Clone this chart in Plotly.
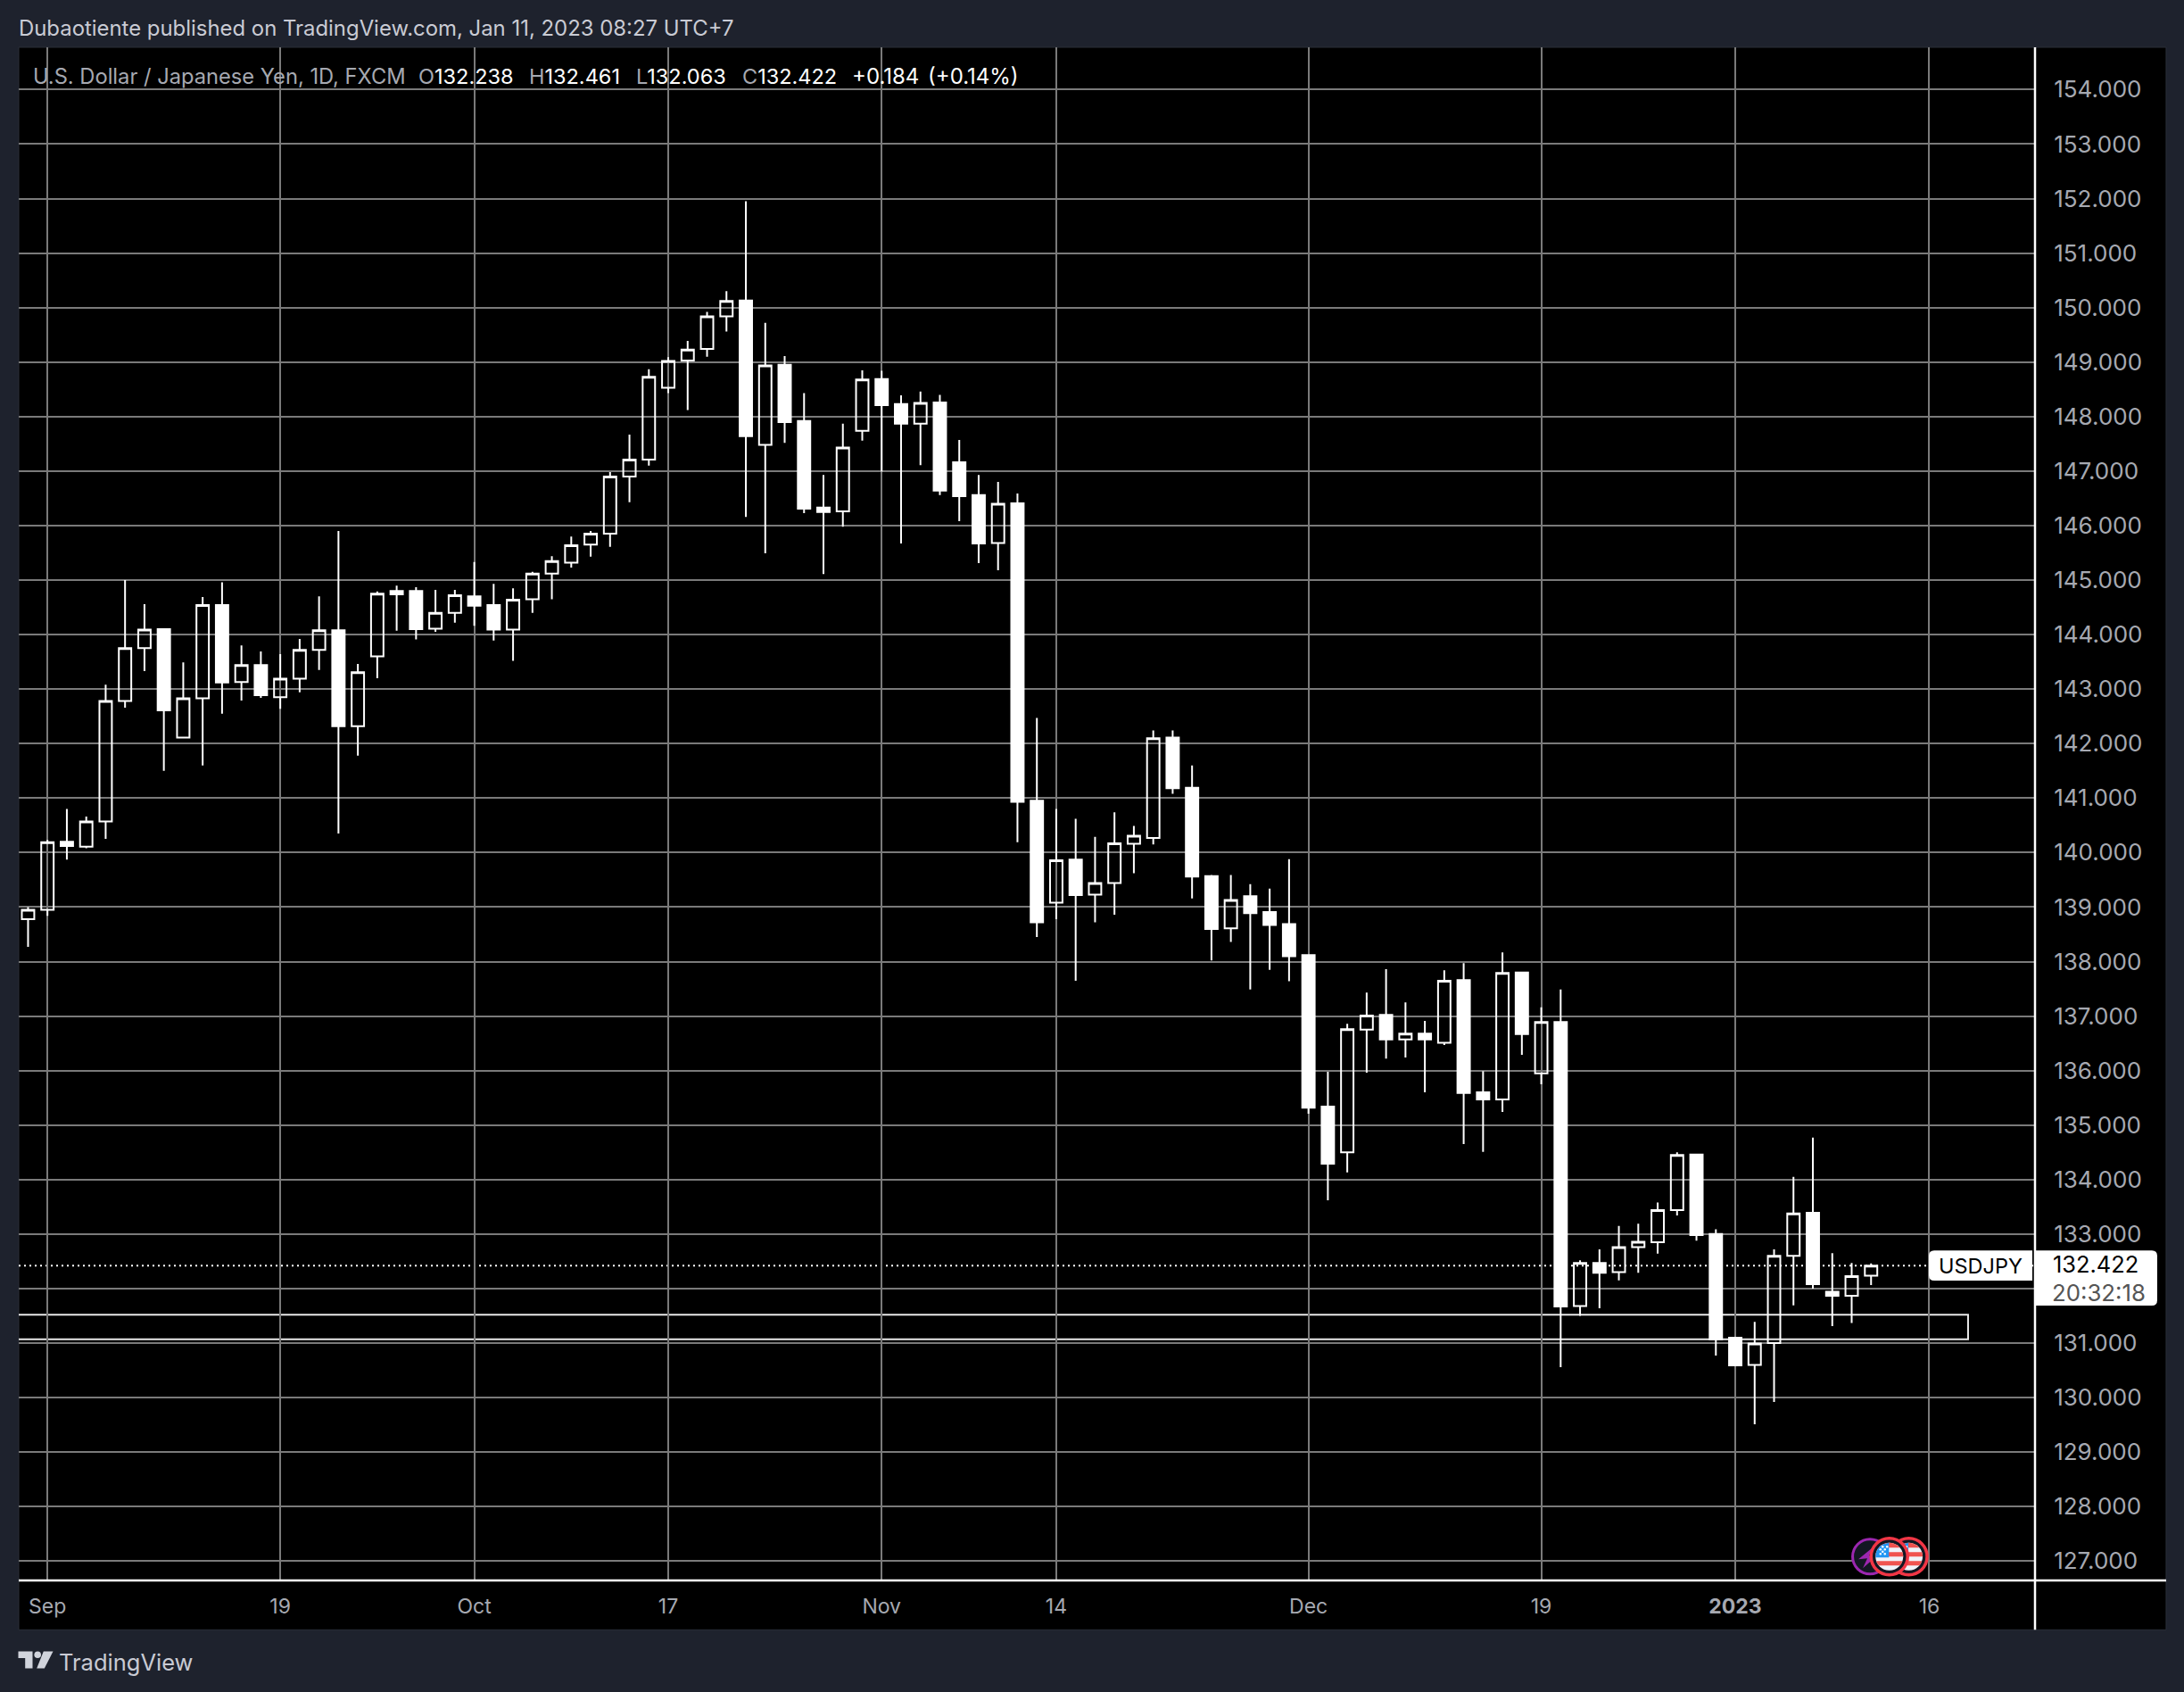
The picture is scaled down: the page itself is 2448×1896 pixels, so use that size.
import math
import plotly.graph_objects as go

# ---------- data ----------
OPEN = [138.78,138.95,140.20,140.11,140.57,142.78,143.75,144.10,142.11,142.83,144.54,143.13,143.44,142.85,143.19,143.72,
        144.08,142.32,143.60,144.80,144.80,144.11,144.40,144.70,144.54,144.09,144.65,145.12,145.32,145.65,145.85,146.90,
        147.21,148.53,149.03,149.24,149.84,150.13,147.48,148.95,147.92,146.33,146.26,147.74,148.69,148.23,147.87,148.26,
        147.16,146.56,145.68,146.41,140.95,139.08,139.87,139.23,139.44,140.16,140.27,142.11,141.19,139.57,138.61,139.20,
        138.91,138.69,138.12,135.34,134.50,136.75,137.02,136.57,136.68,136.51,137.66,135.60,135.47,137.80,135.95,136.89,
        131.68,132.47,132.30,132.76,132.85,133.44,134.46,133.00,131.10,130.60,131.00,132.60,133.39,131.94,131.87,132.238]
HIGH = [139.00,140.23,140.80,140.66,143.08,145.00,144.56,144.11,143.49,144.69,144.96,143.80,143.69,143.64,143.92,144.70,
        145.90,143.46,144.79,144.90,144.87,144.82,144.82,145.33,144.93,144.85,145.15,145.44,145.80,145.90,146.98,147.67,
        148.87,149.09,149.39,149.92,150.30,151.95,149.72,149.11,148.43,146.93,147.87,148.85,148.84,148.39,148.46,148.40,
        147.57,146.93,146.80,146.59,142.47,140.80,140.62,140.29,140.74,140.49,142.24,142.24,141.60,139.59,139.59,139.42,
        139.34,139.88,138.13,135.98,136.86,137.43,137.86,137.25,136.91,137.84,137.97,135.99,138.17,137.81,137.16,137.49,
        132.52,132.72,133.15,133.19,133.58,134.50,134.46,133.09,131.10,131.39,132.72,134.05,134.77,132.65,132.47,132.461]
LOW = [138.27,138.84,139.87,140.08,140.25,142.66,143.33,141.50,142.10,141.60,142.55,142.79,142.84,142.64,142.94,143.35,
       140.35,141.78,143.20,144.07,143.91,144.05,144.22,144.16,143.89,143.52,144.40,144.65,145.23,145.43,145.61,146.43,
       147.10,148.43,148.12,149.10,149.56,146.16,145.49,147.52,146.23,145.11,145.98,147.56,146.99,145.67,147.11,146.56,
       146.08,145.31,145.18,140.19,138.45,138.78,137.65,138.72,138.86,139.62,140.15,141.08,139.16,138.02,138.36,137.49,
       137.85,137.64,135.21,133.62,134.13,135.96,136.22,136.24,135.60,136.47,134.65,134.51,135.24,136.29,135.75,130.56,
       131.50,131.64,132.15,132.29,132.64,133.34,132.88,130.77,130.58,129.51,129.92,131.69,132.00,131.31,131.37,132.063]
CLOSE = [138.95,140.19,140.12,140.57,142.78,143.75,144.09,142.61,142.83,144.54,143.12,143.44,142.89,143.19,143.72,144.08,
         142.32,143.31,144.75,144.74,144.10,144.40,144.72,144.53,144.09,144.64,145.12,145.35,145.64,145.85,146.90,147.21,
         148.73,149.02,149.23,149.84,150.12,147.64,148.94,147.90,146.31,146.25,147.43,148.68,148.21,147.87,148.25,146.64,
         146.54,145.67,146.40,140.93,138.72,139.86,139.22,139.44,140.17,140.31,142.10,141.18,139.56,138.60,139.13,138.89,
         138.67,138.10,135.32,134.29,136.76,137.01,136.57,136.68,136.57,137.65,135.59,135.47,137.79,136.67,136.89,131.67,
         132.47,132.29,132.76,132.86,133.44,134.45,132.98,131.07,130.59,130.99,132.60,133.38,132.08,131.87,132.23,132.422]

SESSION = list(range(len(OPEN)))
X_TICK_SESSIONS = [1, 13, 23, 33, 44, 53, 66, 78, 88, 98]
X_TICK_LABELS = ["Sep", "19", "Oct", "17", "Nov", "14", "Dec", "19", "<b>2023</b>", "16"]
Y_TICKS = list(range(127, 155))
Y_LABEL_HIDDEN_BY_TAG = 132
LAST_PRICE = CLOSE[-1]
ZONE_TOP = 131.52
ZONE_BOTTOM = 131.07
ZONE_END_SESSION = 100

HEADER = "Dubaotiente published on TradingView.com, Jan 11, 2023 08:27 UTC+7"
SYMBOL_TITLE = "U.S. Dollar / Japanese Yen, 1D, FXCM"

# ---------- page geometry ----------
W, H = 2448, 1896
L, R, T, B = 20.5, 2281.0, 53.0, 1770.7   # plot area
PANEL_R, PANEL_B = 2428.0, 1826.0
BG = "#1e222d"
GRID = "#7a7a7a"
AXIS_TXT = "#a6a9b1"
FONT = "Inter, 'Noto Sans', sans-serif"

def px(x):
    return (x - L) / (R - L)

def py(y):
    return (B - y) / (B - T)

def rect(x0, y0, x1, y1, fill=None, line=None, lw=0, layer="above"):
    return dict(type="rect", xref="paper", yref="paper", x0=px(x0), x1=px(x1), y0=py(y0), y1=py(y1),
                fillcolor=fill or "rgba(0,0,0,0)", line=dict(color=line or "rgba(0,0,0,0)", width=lw), layer=layer)

def circle(cx, cy, r, fill=None, line=None, lw=0):
    return rect(cx - r, cy - r, cx + r, cy + r, fill, line, lw) | {"type": "circle"}

def poly(points, fill, layer="above"):
    d = "M " + " L ".join(f"{px(a):.6f},{py(b):.6f}" for a, b in points) + " Z"
    return dict(type="path", xref="paper", yref="paper", path=d, fillcolor=fill,
                line=dict(width=0, color="rgba(0,0,0,0)"), layer=layer)

def path_px(cmds, fill):
    out = []
    for c in cmds:
        if isinstance(c, str):
            out.append(c)
        else:
            out.append(f"{px(c[0]):.6f},{py(c[1]):.6f}")
    return dict(type="path", xref="paper", yref="paper", path=" ".join(out), fillcolor=fill,
                line=dict(width=0, color="rgba(0,0,0,0)"), layer="above")

def clipped_band(cx, cy, r, y0, y1, x0=-99, x1=99):
    """polygon of a rectangle (relative px) clipped to a circle of radius r"""
    n = 10
    left, right = [], []
    for i in range(n + 1):
        y = y0 + (y1 - y0) * i / n
        half = math.sqrt(max(r * r - y * y, 0))
        a, b = max(-half, x0), min(half, x1)
        if b < a:
            a = b = (a + b) / 2
        left.append((cx + a, cy + y))
        right.append((cx + b, cy + y))
    return left + right[::-1]

def flag(cx, cy):
    s = [circle(cx, cy, 20.5, "#131722", "#f23645", 3.5)]
    s.append(circle(cx, cy, 15.5, "#f0f3fa"))
    for y0, y1 in ((-15.5, -10), (-5, 0), (5, 10)):
        s.append(poly(clipped_band(cx, cy, 15.5, y0, y1), "#f05350"))
    s.append(poly(clipped_band(cx, cy, 15.5, -15.5, 1, x1=-0.5), "#2196f3"))
    for dx, dy in ((-10, -8), (-5, -8), (-10, -3), (-5, -3), (-7.5, -11), (-2.5, -11), (-7.5, -5.5)):
        s.append(circle(cx + dx, cy + dy, 1.3, "#ffffff"))
    return s

# ---------- shapes ----------
shapes = [
    rect(L, T, PANEL_R, PANEL_B, "#000000", "#2a2e39", 1, layer="below"),
    dict(type="rect", xref="x", yref="y", x0=-5, x1=ZONE_END_SESSION, y0=ZONE_BOTTOM, y1=ZONE_TOP,
         fillcolor="rgba(0,0,0,0)", line=dict(color="#e8e8e8", width=2), layer="below"),
    dict(type="line", xref="paper", yref="y", x0=0, x1=1, y0=LAST_PRICE, y1=LAST_PRICE,
         line=dict(color="#ffffff", width=2, dash="2px,4px"), layer="below"),
    dict(type="line", xref="paper", yref="paper", x0=px(L), x1=px(PANEL_R), y0=py(B), y1=py(B),
         line=dict(color="#ffffff", width=2.5), layer="above"),
    dict(type="line", xref="paper", yref="paper", x0=px(R), x1=px(R), y0=py(T), y1=py(PANEL_B),
         line=dict(color="#ffffff", width=2.5), layer="above"),
]
# USDJPY label and price tag
rr = 6
shapes.append(path_px(["M", (2278, 1401), "L", (2162 + rr, 1401), "Q", (2162, 1401), (2162, 1401 + rr),
                       "L", (2162, 1434.7 - rr), "Q", (2162, 1434.7), (2162 + rr, 1434.7), "L", (2278, 1434.7), "Z"], "#ffffff"))
shapes.append(path_px(["M", (2282, 1401), "L", (2418 - rr, 1401), "Q", (2418, 1401), (2418, 1401 + rr),
                       "L", (2418, 1462.7 - rr), "Q", (2418, 1462.7), (2418 - rr, 1462.7), "L", (2282, 1462.7), "Z"], "#ffffff"))
# event icons
shapes += [circle(2096, 1744, 19.5, "#131722", "#9c27b0", 3)]
shapes.append(poly([(2100, 1733), (2083, 1747), (2093, 1746), (2088, 1757), (2105, 1742), (2095, 1743)], "#9c27b0"))
shapes += flag(2139.5, 1744) + flag(2117.7, 1744)
# TradingView logo
logo = "#d1d4dc"
shapes.append(poly([(20, 1850.3), (36, 1850.3), (36, 1869.3), (27.7, 1869.3), (27.7, 1857.7), (20, 1857.7)], logo))
shapes.append(circle(41.7, 1854, 3.8, logo))
shapes.append(poly([(48.3, 1850.3), (59, 1850.3), (49.3, 1869.3), (40.7, 1869.3)], logo))

# ---------- text ----------
def note(x, y, text, size=24, color="#ffffff", anchor="left"):
    return dict(xref="paper", yref="paper", x=px(x), y=py(y), text=text, showarrow=False, xanchor=anchor,
                yanchor="middle", align=anchor, borderpad=0, borderwidth=0,
                font=dict(family=FONT, size=size, color=color))

GREY = "#a6a9b1"
def ohlc(letter, value):
    return f'<span style="color:{GREY}">{letter}</span>{value}'

annotations = [
    note(20, 32, HEADER, 23.9, "#c9cbd4"),
    note(36.5, 85, SYMBOL_TITLE, 23.7, GREY),
    note(469, 85, ohlc("O", "132.238"), 23.5),
    note(593, 85, ohlc("H", "132.461"), 23.5),
    note(713, 85, ohlc("L", "132.063"), 23.5),
    note(832, 85, ohlc("C", "132.422"), 23.5),
    note(954.5, 85, "+0.184", 24),
    note(1040, 85, "(+0.14%)", 24),
    note(2220, 1418, "USDJPY", 23.5, "#000000", "center"),
    note(2349.5, 1416.5, f"{LAST_PRICE:.3f}", 25.4, "#000000", "center"),
    note(2353, 1448, "20:32:18", 25.8, "#555555", "center"),
    note(65.5, 1862, "TradingView", 25.5, "#c9cbd4"),
]

# ---------- figure ----------
fig = go.Figure(go.Candlestick(
    x=SESSION, open=OPEN, high=HIGH, low=LOW, close=CLOSE,
    increasing=dict(line=dict(color="#ffffff", width=2), fillcolor="rgba(0,0,0,0)"),
    decreasing=dict(line=dict(color="#ffffff", width=2), fillcolor="#ffffff"),
    whiskerwidth=0, showlegend=False, hoverinfo="skip",
))

x_left = 1 + (L - 52.7) / 21.75
x_right = 1 + (R - 52.7) / 21.75
y_top = 127 + (1749 - T) / 61.06
y_bot = 127 + (1749 - B) / 61.06

fig.update_layout(
    width=W, height=H,
    margin=dict(l=L, r=W - R, t=T, b=H - B, pad=0, autoexpand=False),
    paper_bgcolor=BG, plot_bgcolor="#000000",
    boxgap=0.36, boxgroupgap=0,
    showlegend=False,
    shapes=shapes, annotations=annotations,
    font=dict(family=FONT, color=AXIS_TXT),
    xaxis=dict(range=[x_left, x_right], tickmode="array", tickvals=X_TICK_SESSIONS, ticktext=X_TICK_LABELS,
               showgrid=True, gridcolor=GRID, gridwidth=2, zeroline=False, showline=False,
               ticks="outside", ticklen=8, tickcolor="rgba(0,0,0,0)", tickfont=dict(size=23, color=AXIS_TXT, family=FONT),
               rangeslider=dict(visible=False), fixedrange=True, automargin=False),
    yaxis=dict(range=[y_bot, y_top], side="right", tickmode="array", tickvals=Y_TICKS,
               ticktext=["" if v == Y_LABEL_HIDDEN_BY_TAG else f"{v:.3f}" for v in Y_TICKS],
               showgrid=True, gridcolor=GRID, gridwidth=2, zeroline=False, showline=False,
               ticks="outside", ticklen=15, tickcolor="rgba(0,0,0,0)", tickfont=dict(size=26, color=AXIS_TXT, family=FONT),
               fixedrange=True, automargin=False),
)

fig.write_html("out.html", config={"displayModeBar": False},
               post_script="document.body.style.margin='0';document.body.style.background='%s';" % BG)
